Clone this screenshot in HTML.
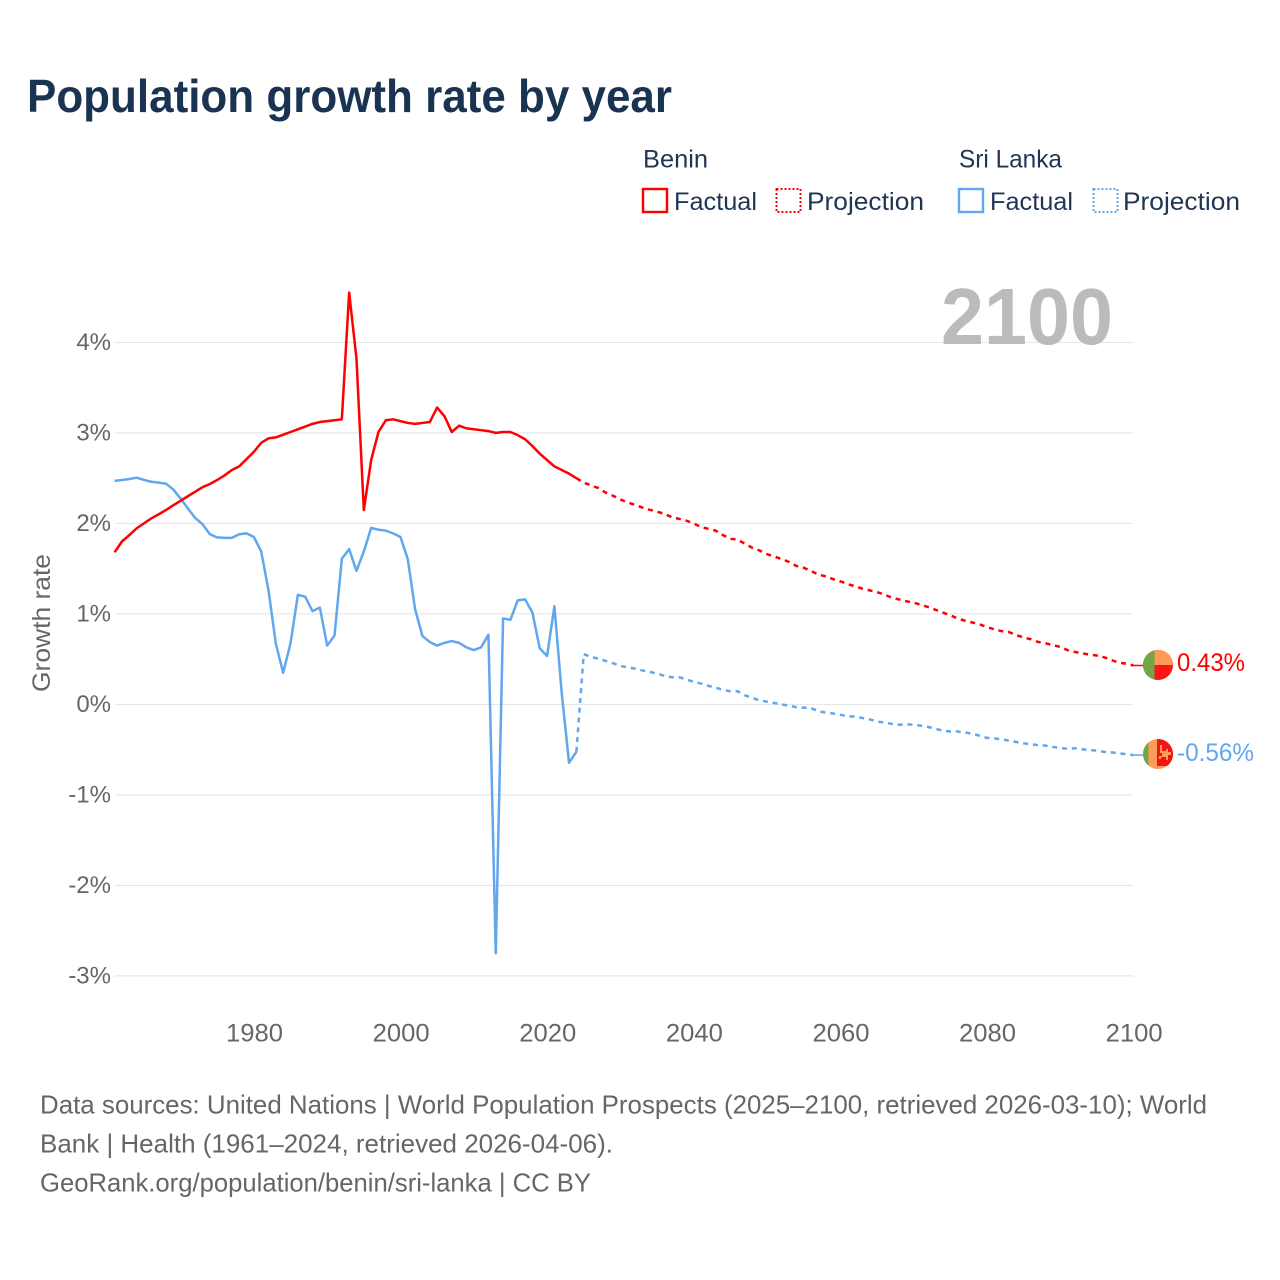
<!DOCTYPE html>
<html lang="en">
<head>
<meta charset="utf-8">
<title>Population growth rate by year</title>
<style>
html,body{margin:0;padding:0;background:#fff;}
#chart-root{position:relative;width:1280px;height:1280px;overflow:hidden;background:#fff;}
svg{display:block;font-family:"Liberation Sans",sans-serif;}
</style>
</head>
<body>
<div id="chart-root">
<svg id="chart" xmlns="http://www.w3.org/2000/svg" width="1280" height="1280" viewBox="0 0 1280 1280">
  <text x="27" y="112" font-size="46" font-weight="700" fill="#1a3352" textLength="645" lengthAdjust="spacingAndGlyphs">Population growth rate by year</text>

  <g font-size="25" fill="#1f3554">
    <text x="643" y="167.5" textLength="65" lengthAdjust="spacingAndGlyphs">Benin</text>
    <text x="959" y="167.5" textLength="103" lengthAdjust="spacingAndGlyphs">Sri Lanka</text>
    <rect x="643" y="189" width="24" height="23" fill="none" stroke="#ff0000" stroke-width="2.4"/>
    <text x="674" y="210" textLength="83" lengthAdjust="spacingAndGlyphs">Factual</text>
    <rect x="776.5" y="189" width="24" height="23" fill="none" stroke="#ff0000" stroke-width="2" stroke-dasharray="2 2"/>
    <text x="807" y="210" textLength="117" lengthAdjust="spacingAndGlyphs">Projection</text>
    <rect x="959" y="189" width="24" height="23" fill="none" stroke="#60a7ee" stroke-width="2.4"/>
    <text x="990" y="210" textLength="83" lengthAdjust="spacingAndGlyphs">Factual</text>
    <rect x="1093.5" y="189" width="24" height="23" fill="none" stroke="#60a7ee" stroke-width="2" stroke-dasharray="2 2"/>
    <text x="1123" y="210" textLength="117" lengthAdjust="spacingAndGlyphs">Projection</text>
  </g>

  <text transform="translate(50 623) rotate(-90)" text-anchor="middle" font-size="25" fill="#666666" textLength="138" lengthAdjust="spacingAndGlyphs">Growth rate</text>

  <g id="grid"></g>
  <g id="y-ticks"></g>
  <g id="x-ticks"></g>

  <text x="941" y="344" font-size="80" font-weight="700" fill="#bbbbbb" textLength="172" lengthAdjust="spacingAndGlyphs">2100</text>

  <g id="series"></g>

  <defs>
    <clipPath id="clip-benin"><circle cx="1158" cy="665" r="15"/></clipPath>
    <clipPath id="clip-lanka"><circle cx="1158" cy="754" r="15"/></clipPath>
  </defs>
  <g clip-path="url(#clip-benin)">
    <rect x="1143" y="650" width="30" height="30" fill="#ff1414"/>
    <rect x="1154" y="650" width="19" height="15" fill="#ff9b57"/>
    <rect x="1143" y="650" width="11.5" height="30" fill="#6fa646"/>
  </g>
  <g clip-path="url(#clip-lanka)">
    <rect x="1143" y="739" width="30" height="30" fill="#ff9b57"/>
    <rect x="1143" y="739" width="5.5" height="30" fill="#6fa646"/>
    <rect x="1157" y="739" width="16" height="27" fill="#f31414"/>
    <path d="M1160 745h2v6h4v-2h2v3h3v3h-3v5h-2v-3h-5v2h-2v-3h3v-3h-2z" fill="#ff9b57"/>
  </g>
  <text id="label-benin" x="1177" y="671" font-size="25" fill="#ff0000" textLength="68" lengthAdjust="spacingAndGlyphs">0.43%</text>
  <text id="label-lanka" x="1177" y="761" font-size="25" fill="#60a7ee" textLength="77" lengthAdjust="spacingAndGlyphs">-0.56%</text>

  <g font-size="26" fill="#666666">
    <text x="40" y="1113.5" textLength="1167" lengthAdjust="spacingAndGlyphs">Data sources: United Nations | World Population Prospects (2025–2100, retrieved 2026-03-10); World</text>
    <text x="40" y="1152.5" textLength="573" lengthAdjust="spacingAndGlyphs">Bank | Health (1961–2024, retrieved 2026-04-06).</text>
    <text x="40" y="1191.5" textLength="551" lengthAdjust="spacingAndGlyphs">GeoRank.org/population/benin/sri-lanka | CC BY</text>
  </g>
</svg>
</div>
<script>
const factualStartYear = 1961;
const projectionStartYear = 2025;
const yTickValues = [4, 3, 2, 1, 0, -1, -2, -3];
const yTickLabels = ["4%", "3%", "2%", "1%", "0%", "-1%", "-2%", "-3%"];
const xTickValues = [1980, 2000, 2020, 2040, 2060, 2080, 2100];
const xTickLabels = ["1980", "2000", "2020", "2040", "2060", "2080", "2100"];

const beninFactual = [
  1.68, 1.80, 1.87, 1.945, 2.00, 2.055, 2.10, 2.147, 2.20, 2.25,
  2.30, 2.35, 2.40, 2.435, 2.48, 2.53, 2.59, 2.63, 2.71, 2.79,
  2.89, 2.94, 2.95, 2.98, 3.01, 3.04, 3.07, 3.10, 3.12, 3.13,
  3.14, 3.15, 4.55, 3.82, 2.147, 2.70, 3.01, 3.14, 3.15, 3.13,
  3.11, 3.10, 3.11, 3.12, 3.28, 3.185, 3.01, 3.08, 3.05, 3.04,
  3.03, 3.02, 3.00, 3.01, 3.01, 2.975, 2.93, 2.855, 2.77, 2.70,
  2.63, 2.59, 2.55, 2.50
];
const beninProjection = [
  2.45, 2.42, 2.39, 2.34, 2.305, 2.265, 2.23, 2.205, 2.175, 2.15,
  2.13, 2.105, 2.07, 2.05, 2.03, 2.00, 1.96, 1.94, 1.92, 1.87,
  1.83, 1.82, 1.775, 1.73, 1.70, 1.66, 1.635, 1.605, 1.575, 1.53,
  1.51, 1.475, 1.435, 1.415, 1.385, 1.36, 1.33, 1.305, 1.28, 1.26,
  1.24, 1.215, 1.18, 1.16, 1.14, 1.125, 1.10, 1.075, 1.045, 1.015,
  0.985, 0.95, 0.925, 0.905, 0.885, 0.855, 0.83, 0.81, 0.80, 0.765,
  0.74, 0.72, 0.69, 0.675, 0.655, 0.635, 0.60, 0.58, 0.565, 0.55,
  0.54, 0.52, 0.49, 0.46, 0.45, 0.43
];
const lankaFactual = [
  2.47, 2.48, 2.49, 2.505, 2.48, 2.46, 2.45, 2.44, 2.375, 2.275,
  2.165, 2.06, 1.99, 1.88, 1.845, 1.84, 1.84, 1.88, 1.89, 1.85,
  1.69, 1.26, 0.67, 0.35, 0.675, 1.21, 1.19, 1.03, 1.07, 0.65,
  0.76, 1.61, 1.715, 1.475, 1.69, 1.95, 1.93, 1.92, 1.89, 1.85,
  1.605, 1.05, 0.755, 0.69, 0.65, 0.68, 0.70, 0.68, 0.63, 0.60,
  0.63, 0.77, -2.75, 0.95, 0.935, 1.15, 1.16, 1.015, 0.62, 0.535,
  1.085, 0.125, -0.645, -0.524
];
const lankaProjection = [
  0.555, 0.525, 0.505, 0.48, 0.455, 0.425, 0.41, 0.395, 0.375, 0.36,
  0.34, 0.315, 0.30, 0.30, 0.275, 0.25, 0.23, 0.205, 0.185, 0.16,
  0.145, 0.145, 0.10, 0.07, 0.045, 0.03, 0.015, 0.00, -0.015, -0.03,
  -0.035, -0.04, -0.075, -0.09, -0.10, -0.115, -0.13, -0.135, -0.15, -0.165,
  -0.19, -0.20, -0.215, -0.225, -0.22, -0.225, -0.235, -0.25, -0.27, -0.29,
  -0.30, -0.30, -0.31, -0.325, -0.345, -0.37, -0.375, -0.385, -0.40, -0.415,
  -0.43, -0.44, -0.45, -0.455, -0.47, -0.48, -0.49, -0.485, -0.495, -0.505,
  -0.51, -0.525, -0.53, -0.54, -0.55, -0.56
];

const SVG_NS = "http://www.w3.org/2000/svg";
function xScale(year) { return 114.6 + (year - 1961) * 7.33; }
function yScale(value) { return 704.4 - value * 90.5; }

function toPoints(values, startYear) {
  return values.map(function (v, i) {
    return xScale(startYear + i).toFixed(2) + "," + yScale(v).toFixed(2);
  });
}

function drawLine(parent, name, points, color, dash) {
  const el = document.createElementNS(SVG_NS, "polyline");
  
  
  el.setAttribute("points", points.join(" "));
  el.setAttribute("fill", "none");
  el.setAttribute("stroke", color);
  el.setAttribute("stroke-width", "2.5");
  el.setAttribute("stroke-linejoin", "round");
  if (dash) el.setAttribute("stroke-dasharray", dash);
  parent.appendChild(el);
}

const gridGroup = document.getElementById("grid");
const yTickGroup = document.getElementById("y-ticks");
const xTickGroup = document.getElementById("x-ticks");
const seriesGroup = document.getElementById("series");

yTickValues.forEach(function (v, i) {
  const y = yScale(v);
  const line = document.createElementNS(SVG_NS, "line");
  
  
  line.setAttribute("x1", "115");
  line.setAttribute("x2", "1133");
  line.setAttribute("y1", y);
  line.setAttribute("y2", y);
  line.setAttribute("stroke", "#e2e2e2");
  line.setAttribute("stroke-width", "1");
  gridGroup.appendChild(line);

  const label = document.createElementNS(SVG_NS, "text");
  
  
  label.setAttribute("x", "111");
  label.setAttribute("y", y + 7.8);
  label.setAttribute("text-anchor", "end");
  label.setAttribute("font-size", "24");
  label.setAttribute("fill", "#666666");
  label.textContent = yTickLabels[i];
  yTickGroup.appendChild(label);
});

xTickValues.forEach(function (year, i) {
  const label = document.createElementNS(SVG_NS, "text");
  
  
  label.setAttribute("x", xScale(year) + 0.7);
  label.setAttribute("y", "1041.5");
  label.setAttribute("text-anchor", "middle");
  label.setAttribute("font-size", "25");
  label.setAttribute("fill", "#666666");
  label.setAttribute("textLength", "57");
  label.setAttribute("lengthAdjust", "spacingAndGlyphs");
  label.textContent = xTickLabels[i];
  xTickGroup.appendChild(label);
});

function drawSeries(prefix, factual, projection, color) {
  const factualPts = toPoints(factual, factualStartYear);
  const projectionPts = toPoints(projection, projectionStartYear);
  const lastFactual = factualPts[factualPts.length - 1];
  const lastProjection = projectionPts[projectionPts.length - 1];
  drawLine(seriesGroup, prefix + "-projection-line", [lastFactual].concat(projectionPts), color, "5 4.8");
  drawLine(seriesGroup, prefix + "-factual-line", factualPts, color, null);
  const endY = lastProjection.split(",")[1];
  const leader = document.createElementNS(SVG_NS, "line");
  
  
  leader.setAttribute("x1", xScale(2100));
  leader.setAttribute("x2", "1143");
  leader.setAttribute("y1", endY);
  leader.setAttribute("y2", endY);
  leader.setAttribute("stroke", color);
  leader.setAttribute("stroke-width", "1.5");
  seriesGroup.appendChild(leader);
}

drawSeries("sri-lanka", lankaFactual, lankaProjection, "#60a7ee");
drawSeries("benin", beninFactual, beninProjection, "#ff0000");

document.getElementById("label-benin").textContent = beninProjection[beninProjection.length - 1].toFixed(2) + "%";
document.getElementById("label-lanka").textContent = lankaProjection[lankaProjection.length - 1].toFixed(2) + "%";
</script>
</body>
</html>
